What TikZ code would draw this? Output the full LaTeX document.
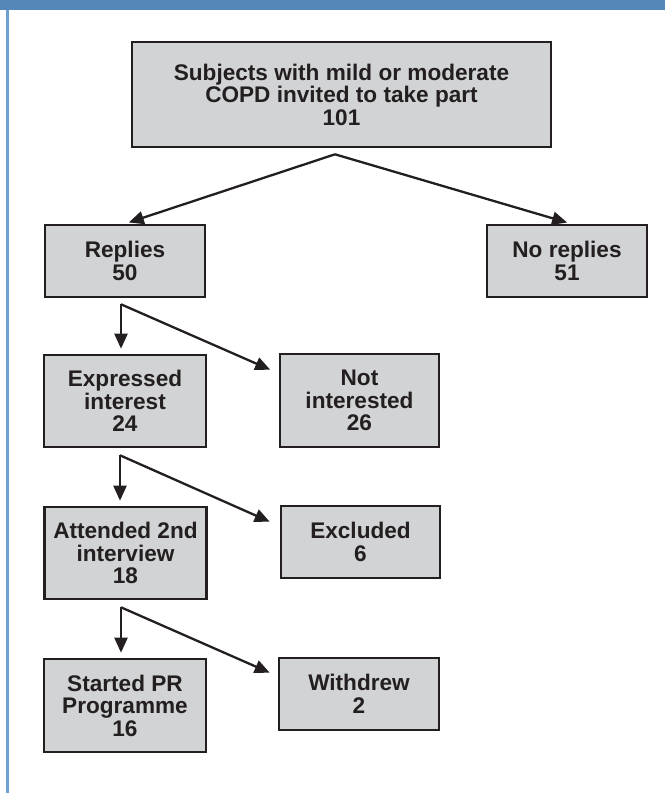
\documentclass[tikz,border=0pt]{standalone}
\usepackage{fontspec}
\setmainfont{Liberation Sans}
\usetikzlibrary{arrows.meta,calc}
\definecolor{topbar}{RGB}{85,136,185}
\definecolor{sidebar}{RGB}{110,160,212}
\definecolor{boxfill}{RGB}{209,211,213}
\definecolor{ink}{RGB}{35,31,32}
\begin{document}
\begin{tikzpicture}[x=1pt,y=-1pt,
  box/.style={draw=ink,fill=boxfill,line width=2.6pt,inner sep=0pt,align=center,
    text=ink,font=\fontsize{22.6}{22.5}\selectfont\bfseries},
  smallbox/.style={box,minimum width=160pt,minimum height=72pt},
  tallbox/.style={box,minimum width=162pt,minimum height=92pt},
  arr/.style={draw=ink,line width=2.3pt,-{Triangle[length=15pt,width=13pt]}}]
\useasboundingbox (0,0) rectangle (665,793);
\fill[topbar] (0,0) rectangle (665,10);
\fill[sidebar] (6,10) rectangle (9,793);
% boxes
\node[box,minimum width=419pt,minimum height=105pt] (top) at (341.5,94.5)
  {Subjects with mild or moderate\\COPD invited to take part\\101};
\node[smallbox] (replies) at (125,261) {Replies\\50};
\node[smallbox] (noreplies) at (567,261) {No replies\\51};
\node[tallbox] (expressed) at (125,401) {Expressed\\interest\\24};
\node[box,minimum width=159pt,minimum height=93pt] (notint) at (359.5,400.5) {Not\\interested\\26};
\node[tallbox] (attended) at (125.5,553) {Attended 2nd\\interview\\18};
\node[box,minimum width=159pt,minimum height=72pt] (excluded) at (360.5,542) {Excluded\\6};
\node[box,minimum width=162pt,minimum height=93pt] (started) at (125,705.5) {Started PR\\Programme\\16};
\node[box,minimum width=160pt,minimum height=72pt] (withdrew) at (359,694) {Withdrew\\2};
% branch points
\coordinate (s0) at ($(top.south)+(-6.5,6)$);
\coordinate (s1) at ($(replies.south)+(-4,6)$);
\coordinate (s2) at ($(expressed.south)+(-5,7)$);
\coordinate (s3) at ($(attended.south)+(-4.5,7)$);
% connectors
\draw[arr,shorten >=4pt] (s0) -- (replies.north);
\draw[arr,shorten >=4pt] (s0) -- ($(noreplies.north)+(4,0)$);
\draw[arr,shorten >=5pt] (s1) -- (s1 |- expressed.north);
\draw[arr] (s1) -- ($(notint.north west)+(-8.5,17)$);
\draw[arr,shorten >=5pt] (s2) -- (s2 |- attended.north);
\draw[arr] (s2) -- ($(excluded.north west)+(-10,17)$);
\draw[arr,shorten >=5pt] (s3) -- (s3 |- started.north);
\draw[arr] (s3) -- ($(withdrew.north west)+(-8,16)$);
\end{tikzpicture}
\end{document}
